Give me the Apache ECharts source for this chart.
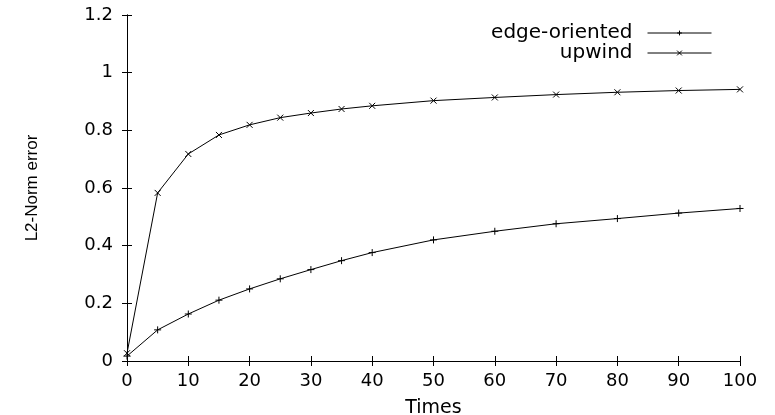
<!DOCTYPE html>
<html>
<head>
<meta charset="utf-8">
<script src="https://cdn.jsdelivr.net/npm/echarts@6/dist/echarts.min.js"></script>
<style>html,body{margin:0;padding:0;background:#fff}#c{width:775px;height:415px}</style>
</head>
<body>
<div id="c"></div>
<script>
var times = [0, 5, 10, 15, 20, 25, 30, 35, 40, 50, 60, 70, 80, 90, 100];
var edgeOriented = [0.017, 0.108, 0.163, 0.211, 0.25, 0.285, 0.317, 0.348, 0.376, 0.42, 0.45, 0.476, 0.494, 0.513, 0.529];
var upwind = [0.027, 0.583, 0.718, 0.784, 0.819, 0.844, 0.86, 0.874, 0.885, 0.903, 0.914, 0.924, 0.932, 0.938, 0.942];
var seriesNames = ['edge-oriented', 'upwind'];
var xName = 'Times';
var yName = 'L2-Norm error';

var FONT = 'DejaVu Sans';
var FONT_Y = 'Liberation Sans';
var plus = 'path://M5,0L5,10M0,5L10,5';
var cross = 'path://M0,0L10,10M0,10L10,0';

function pairs(xs, ys) { return xs.map(function (x, i) { return [x, ys[i]]; }); }

var tickStyle = { show: true, inside: true, length: 5, lineStyle: { color: '#000', width: 1 } };
var lineStyle = { show: true, lineStyle: { color: '#000', width: 1 } };

var chart = echarts.init(document.getElementById('c'), null, { renderer: 'canvas' });
chart.setOption({
  animation: false,
  backgroundColor: '#fff',
  grid: { left: 127, right: 35, top: 15, bottom: 54, containLabel: false, outerBoundsMode: 'none' },
  legend: {
    orient: 'vertical', right: 63, top: 23, align: 'right', padding: 0,
    itemWidth: 64, itemHeight: 6, itemGap: 0,
    lineStyle: { width: 1, color: '#000' },
    itemStyle: { color: 'rgba(0,0,0,0)', borderColor: '#000', borderWidth: 1 },
    textStyle: { fontFamily: FONT, fontSize: 20, lineHeight: 17, color: '#000', padding: [0, 10, 0, 0] },
    data: seriesNames
  },
  xAxis: [{
    type: 'value', min: 0, max: 100, interval: 10,
    name: xName, nameLocation: 'middle', nameGap: 38,
    nameTextStyle: { fontFamily: FONT, fontSize: 19, color: '#000' },
    axisLine: lineStyle, axisTick: tickStyle, splitLine: { show: false },
    axisLabel: { fontFamily: FONT, fontSize: 18, color: '#000', margin: 11 }
  }, {
    type: 'value', min: 0, max: 100, interval: 10, position: 'top',
    axisLine: lineStyle, axisTick: tickStyle, splitLine: { show: false },
    axisLabel: { show: false }
  }],
  yAxis: [{
    type: 'value', min: 0, max: 1.2, interval: 0.2,
    name: yName, nameLocation: 'middle', nameGap: 86, nameRotate: 90,
    nameTextStyle: { fontFamily: FONT_Y, fontSize: 17, color: '#000' },
    axisLine: lineStyle, axisTick: tickStyle, splitLine: { show: false },
    axisLabel: { fontFamily: FONT, fontSize: 18, color: '#000', margin: 14,
      formatter: function (v) { return String(+v.toFixed(1)); } }
  }, {
    type: 'value', min: 0, max: 1.2, interval: 0.2, position: 'right',
    axisLine: lineStyle, axisTick: tickStyle, splitLine: { show: false },
    axisLabel: { show: false }
  }],
  series: [{
    name: seriesNames[0], type: 'line', data: pairs(times, edgeOriented),
    symbol: plus, symbolSize: 7, clip: false,
    lineStyle: { color: '#000', width: 1 },
    itemStyle: { color: 'rgba(0,0,0,0)', borderColor: '#000', borderWidth: 1 }
  }, {
    name: seriesNames[1], type: 'line', data: pairs(times, upwind),
    symbol: cross, symbolSize: 6, clip: false,
    lineStyle: { color: '#000', width: 1 },
    itemStyle: { color: 'rgba(0,0,0,0)', borderColor: '#000', borderWidth: 1 }
  }]
});
</script>
</body>
</html>
